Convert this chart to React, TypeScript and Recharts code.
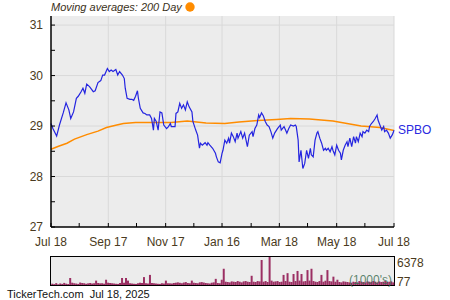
import React from "react";
import { LineChart, Line, XAxis, YAxis, CartesianGrid, BarChart, Bar } from "recharts";

const FONT = "'Liberation Sans', Arial, sans-serif";
const LABEL_COLOR = "#4a3a20";

// Day offsets from Jul 18, 2024
const priceDays = [0,2,6,9,13,16,19,21,24,27,29,32,34,36,38,41,45,47,50,53,55,57,60,62,64,66,69,71,73,76,78,79,81,84,86,88,90,92,93,95,98,100,102,105,107,109,110,112,114,116,118,120,123,125,127,128,132,133,135,137,139,141,143,145,147,150,151,154,156,158,159,161,164,166,167,169,172,175,176,178,180,182,183,185,187,189,190,192,194,196,198,199,202,204,206,209,211,214,215,217,219,221,222,224,226,228,230,232,234,236,238,241,244,245,248,251,253,255,258,260,261,263,264,266,268,270,272,274,276,277,279,281,283,284,286,288,290,292,293,295,297,299,300,302,304,306,308,309,311,313,315,316,318,320,322,324,325,327,329,331,332,334,336,338,339,341,343,345,347,348,350,352,354,355,357,359,361,363,364,365];
const priceValues = [29.05,28.95,28.80,29.02,29.26,29.46,29.32,29.15,29.28,29.55,29.59,29.68,29.75,29.65,29.83,29.78,29.68,29.70,29.86,29.90,30.01,30.01,30.14,30.08,30.11,30.08,30.12,30.01,30.08,30.01,29.94,29.75,29.55,29.53,29.53,29.51,29.59,29.70,29.55,29.35,29.26,29.25,29.22,29.22,29.15,28.92,29.15,29.09,28.92,29.28,29.26,29.02,28.95,28.99,29.05,28.99,28.99,29.25,29.28,29.45,29.35,29.42,29.32,29.48,29.38,29.28,29.09,28.92,28.82,28.56,28.66,28.62,28.67,28.62,28.67,28.62,28.56,28.46,28.39,28.29,28.27,28.46,28.52,28.72,28.66,28.76,28.66,28.86,28.79,28.69,28.86,28.76,28.89,28.76,28.86,28.59,28.82,28.89,28.79,28.95,29.02,29.22,29.17,29.26,29.20,29.09,29.02,28.99,28.89,28.76,28.86,28.95,29.02,28.92,28.99,28.86,28.95,29.02,29.00,29.02,28.99,28.72,28.29,28.52,28.16,28.26,28.52,28.36,28.56,28.43,28.39,28.72,28.86,28.89,28.76,28.66,28.52,28.56,28.52,28.56,28.49,28.59,28.52,28.43,28.62,28.52,28.46,28.33,28.52,28.62,28.69,28.59,28.76,28.59,28.79,28.66,28.79,28.69,28.86,28.79,28.89,28.86,28.92,28.89,28.99,29.05,29.09,29.15,29.22,29.12,29.02,28.92,28.99,28.89,28.92,28.86,28.76,28.82,28.86,28.92];

const maDays = [0,8,17,25,38,50,59,70,77,90,110,128,145,165,185,200,220,240,255,275,300,330,350,365];
const maValues = [28.54,28.60,28.66,28.74,28.83,28.90,28.97,29.02,29.05,29.07,29.07,29.07,29.10,29.06,29.05,29.08,29.11,29.13,29.15,29.14,29.10,29.00,28.97,28.91];

const volume = [
  300,200,420,160,350,250,480,300,220,1600,
  520,400,330,250,560,460,400,280,380,460,
  340,400,1000,460,380,400,300,1200,520,460,
  400,340,280,250,460,1600,520,1600,1000,400,
  340,280,250,400,520,460,1800,400,340,2300,
  460,400,340,280,250,400,340,1000,400,380,
  340,460,520,600,500,400,560,660,460,400,
  1000,520,460,400,600,660,560,460,400,340,
  520,600,1400,460,400,1200,3700,750,680,600,
  820,750,680,900,750,600,820,900,750,680,
  2100,750,680,900,820,5700,750,900,680,6378,
  1000,750,820,900,680,750,2300,900,2700,750,
  680,2500,900,3200,1000,2500,820,900,3400,1000,
  3700,900,750,680,900,2300,750,980,3400,900,
  820,1900,750,1200,680,600,820,750,680,600,
  520,750,680,600,900,750,680,600,820,750,
  680,900,750,600,820,680,750,900,680,750,820,600
];
const volumeMax = 6378;
const volumeMin = 77;

const majorTickDays = [0, 61, 122, 182, 243, 304, 365];
const majorTickLabels = ["Jul 18", "Sep 17", "Nov 17", "Jan 16", "Mar 18", "May 18", "Jul 18"];
const minorTickDays = [30, 91, 152, 213, 273, 334];
const yMajorTicks = [27, 28, 29, 30, 31];
const yMinorTicks = [27.5, 28.5, 29.5, 30.5];
const ticker = "SPBO";

const priceData = priceDays.map((d, i) => ({ d, price: priceValues[i] }));
const maData = maDays.map((d, i) => ({ d, ma: maValues[i] }));
const volumeData = volume.map((v, i) => ({ i, v }));
const xTicks = [...majorTickDays, ...minorTickDays].sort((a, b) => a - b);
const yTicks = [...yMajorTicks, ...yMinorTicks].sort((a, b) => a - b);

const XTick = (props: any) => {
  const { x, y, payload } = props;
  const idx = majorTickDays.indexOf(payload.value);
  if (idx < 0) return null;
  return (
    <text x={x} y={y} dy="0.71em" textAnchor="middle" fontSize={12} fontFamily={FONT} fill={LABEL_COLOR}>
      {majorTickLabels[idx]}
    </text>
  );
};

const YTick = (props: any) => {
  const { x, y, payload } = props;
  if (!yMajorTicks.includes(payload.value)) return null;
  return (
    <text x={x} y={y} dy="0.355em" textAnchor="end" fontSize={12} fontFamily={FONT} fill={LABEL_COLOR}>
      {payload.value}
    </text>
  );
};

const LastLabel = (props: any) => {
  const { x, y, index } = props;
  if (index !== priceData.length - 1) return null;
  return (
    <text x={x + 4} y={y} dy="0.3em" fontSize={12} fontFamily={FONT} fill="#2a2ae0">
      {ticker}
    </text>
  );
};

export default function App() {
  return (
    <div style={{ position: "absolute", left: 0, top: 0, width: 450, height: 300, background: "#fff", fontFamily: FONT }}>
      <div style={{ position: "absolute", left: 0, top: 0 }}>
        <LineChart width={450} height={250} margin={{ top: 16, right: 56, bottom: 0, left: 0 }}>
          <CartesianGrid
            fill="#ececec"
            stroke="#d9d9d9"
            strokeWidth={1}
            horizontalValues={[28, 29, 30, 31]}
            verticalValues={[61, 122, 182, 243, 304, 365]}
          />
          <XAxis
            type="number"
            dataKey="d"
            domain={[0, 365]}
            ticks={xTicks}
            interval={0}
            height={23}
            tick={<XTick />}
            tickSize={-4}
            tickMargin={14}
            axisLine={{ stroke: "#000", strokeWidth: 1.5 }}
            tickLine={{ stroke: "#000" }}
          />
          <YAxis
            type="number"
            domain={[27, 31.18]}
            ticks={yTicks}
            interval={0}
            width={51}
            tick={<YTick />}
            tickSize={-4}
            tickMargin={12}
            axisLine={{ stroke: "#000", strokeWidth: 1.5 }}
            tickLine={{ stroke: "#000" }}
            allowDataOverflow
          />
          <Line
            data={maData}
            dataKey="ma"
            type="linear"
            stroke="#ff8c00"
            strokeWidth={1.5}
            dot={false}
            isAnimationActive={false}
          />
          <Line
            data={priceData}
            dataKey="price"
            type="linear"
            stroke="#2424e0"
            strokeWidth={1.2}
            dot={false}
            isAnimationActive={false}
            label={<LastLabel />}
          />
        </LineChart>
      </div>

      <div
        style={{
          position: "absolute",
          left: 50,
          top: 256,
          width: 345,
          height: 30,
          boxSizing: "border-box",
          border: "1px solid #000",
          background: "#ececec",
        }}
      />
      <div style={{ position: "absolute", left: 0, top: 257 }}>
        <BarChart width={450} height={28} data={volumeData} margin={{ top: 0, right: 56, bottom: 0, left: 51 }} barCategoryGap="12%">
          <XAxis dataKey="i" hide />
          <YAxis domain={[0, volumeMax]} hide allowDataOverflow />
          <Bar dataKey="v" fill="#9b2f63" isAnimationActive={false} />
        </BarChart>
      </div>

      <svg width={450} height={300} style={{ position: "absolute", left: 0, top: 0, pointerEvents: "none" }}>
        <text x={51} y={11} fontSize={11} fontStyle="italic" fontFamily={FONT} fill="#3a3020">
          Moving averages: 200 Day
        </text>
        <circle cx={190} cy={7} r={4.7} fill="#ff8c00" />
        <text x={397} y={267} fontSize={12} fontFamily={FONT} fill={LABEL_COLOR}>
          {volumeMax}
        </text>
        <text x={397} y={286} fontSize={12} fontFamily={FONT} fill={LABEL_COLOR}>
          {volumeMin}
        </text>
        <text x={392} y={284} textAnchor="end" fontSize={12} fontFamily={FONT} fill="#3f6f55" fillOpacity={0.85}>
          (1000's)
        </text>
        <text x={7} y={298} fontSize={11} fontFamily={FONT} fill="#111" xmlSpace="preserve">
          TickerTech.com  Jul 18, 2025
        </text>
      </svg>
    </div>
  );
}
